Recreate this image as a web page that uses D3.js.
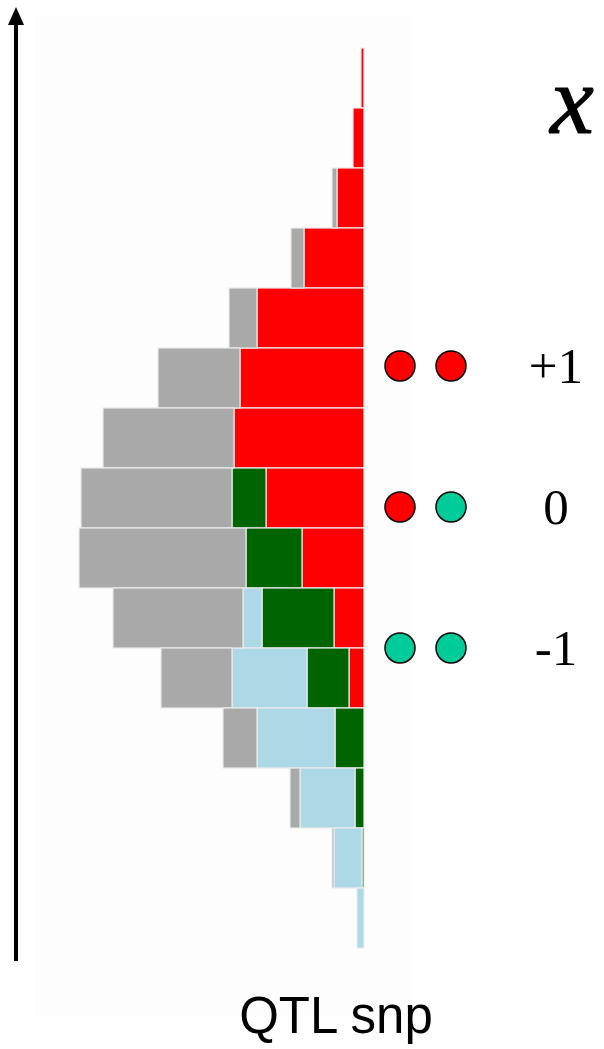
<!DOCTYPE html>
<html>
<head>
<meta charset="utf-8">
<script src="https://cdn.jsdelivr.net/npm/d3@7"></script>
<style>
  html, body { margin: 0; padding: 0; background: #fff; }
  svg { display: block; }
</style>
</head>
<body>
<svg id="s"></svg>
<script>
// bins from top to bottom, segment widths (counts) per genotype class
var bins = d3.range(15);
var red       = [3, 11, 27, 60, 107, 124, 130, 98, 62, 30, 15, 0, 0, 0, 0];
var darkGreen = [0, 0, 0, 0, 0, 0, 0, 34, 56, 72, 42, 29, 9, 2, 0];
var lightBlue = [0, 0, 0, 0, 0, 0, 0, 0, 0, 19, 75, 78, 55, 28, 7];
var grey      = [0, 0, 5, 13, 28, 82, 131, 151, 167, 130, 71, 34, 10, 2, 0];

var legendLabels = ['+1', '0', '-1'];
var alleleA = ['#ff0000', '#ff0000', '#00cc99'];
var alleleB = ['#ff0000', '#00cc99', '#00cc99'];

var W = 604, H = 1049;

var s = d3.select('#s')
  .attr('width', W)
  .attr('height', H);

// faint panel behind the plot
s.append('rect')
  .attr('x', 35).attr('y', 16)
  .attr('width', 377).attr('height', 1001)
  .attr('fill', '#fdfdfd');

var rows = bins.map(function(i){
  return {i: i, red: red[i], green: darkGreen[i], blue: lightBlue[i], grey: grey[i]};
});

var keys = ['red', 'green', 'blue', 'grey'];
var fills = {red: '#ff0000', green: '#006400', blue: '#add8e6', grey: '#a9a9a9'};

var stack = d3.stack().keys(keys)(rows);

var x = d3.scaleLinear().domain([0, 300]).range([364, 64]);
var y = d3.scaleBand().domain(bins).range([48, 948]);

s.selectAll('g.layer')
  .data(stack)
  .enter()
  .append('g')
  .attr('class', 'layer')
  .attr('fill', function(d){ return fills[d.key]; })
  .selectAll('rect')
  .data(function(d){ return d.filter(function(p){ return p[1] - p[0] > 0; }); })
  .enter()
  .append('rect')
  .attr('x', function(p){ return x(p[1]); })
  .attr('y', function(p){ return y(p.data.i); })
  .attr('width', function(p){ return x(p[0]) - x(p[1]); })
  .attr('height', y.bandwidth())
  .attr('stroke', '#ececec')
  .attr('stroke-width', 1.2);

// vertical arrow
s.append('line')
  .attr('x1', 16).attr('x2', 16)
  .attr('y1', 961).attr('y2', 22)
  .attr('stroke', '#000')
  .attr('stroke-width', 4);
s.append('path')
  .attr('d', 'M8,25 L16,7 L24,25 Z')
  .attr('fill', '#000');

// legend: genotype circles and x values
var ly = d3.scalePoint().domain(legendLabels).range([366, 648]);

var lg = s.selectAll('g.leg')
  .data(legendLabels)
  .enter()
  .append('g')
  .attr('class', 'leg');

lg.append('circle')
  .attr('cx', 400)
  .attr('cy', function(d){ return ly(d); })
  .attr('r', 15)
  .attr('fill', function(d, i){ return alleleA[i]; })
  .attr('stroke', '#000')
  .attr('stroke-width', 1.5);

lg.append('circle')
  .attr('cx', 451)
  .attr('cy', function(d){ return ly(d); })
  .attr('r', 15)
  .attr('fill', function(d, i){ return alleleB[i]; })
  .attr('stroke', '#000')
  .attr('stroke-width', 1.5);

lg.append('text')
  .attr('x', 556)
  .attr('y', function(d){ return ly(d) + 17; })
  .attr('text-anchor', 'middle')
  .attr('font-family', '"Liberation Serif", "Times New Roman", serif')
  .attr('font-size', 51)
  .text(function(d){ return d; });

s.append('text')
  .attr('x', 572)
  .attr('y', 133)
  .attr('text-anchor', 'middle')
  .attr('font-family', '"Liberation Serif", "Times New Roman", serif')
  .attr('font-style', 'italic')
  .attr('font-size', 98)
  .attr('stroke', '#000')
  .attr('stroke-width', 1.2)
  .text('x');

s.append('text')
  .attr('x', 336)
  .attr('y', 1033)
  .attr('text-anchor', 'middle')
  .attr('font-family', '"Liberation Sans", Arial, sans-serif')
  .attr('font-size', 51)
  .text('QTL snp');
</script>
</body>
</html>
